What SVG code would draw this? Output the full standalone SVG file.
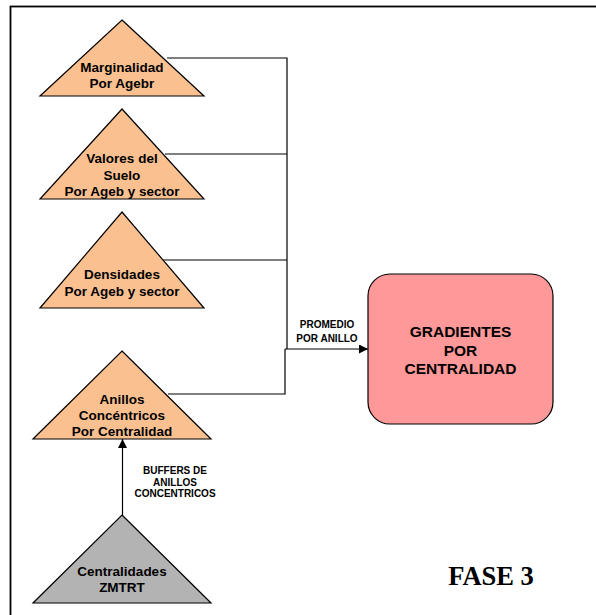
<svg xmlns="http://www.w3.org/2000/svg" width="596" height="615" viewBox="0 0 596 615">
  <defs>
    <marker id="arrow" viewBox="0 0 10 10" refX="10" refY="5" markerWidth="9" markerHeight="9" markerUnits="userSpaceOnUse" orient="auto">
      <path d="M0,0 L10,5 L0,10 z" fill="#000"/>
    </marker>
    <style>
      .tri { fill: #fac090; stroke: #000; stroke-width: 1.2; }
      .tri-grey { fill: #b3b3b3; stroke: #000; stroke-width: 1.2; }
      .lbl { font-family: "Liberation Sans", Arial, sans-serif; font-weight: bold; font-size: 13.5px; fill: #000; text-anchor: middle; }
      .small { font-family: "Liberation Sans", Arial, sans-serif; font-weight: bold; font-size: 10px; fill: #000; text-anchor: middle; }
      .big { font-family: "Liberation Sans", Arial, sans-serif; font-weight: bold; font-size: 15.5px; fill: #000; text-anchor: middle; }
      .wire { fill: none; stroke: #000; stroke-width: 1.2; }
    </style>
  </defs>

  <rect width="596" height="615" fill="#fff"/>
  <!-- page frame -->
  <rect x="10.5" y="6.5" width="600" height="620" fill="none" stroke="#000" stroke-width="1.8"/>

  <!-- connectors -->
  <g id="connectors">
    <polyline class="wire" points="167,58 287,58 287,349"/>
    <line class="wire" x1="165" y1="154" x2="287" y2="154"/>
    <line class="wire" x1="163" y1="260" x2="287" y2="260"/>
    <polyline class="wire" points="168,394 285,394 285,349"/>
    <line class="wire" x1="285" y1="349" x2="368" y2="349" marker-end="url(#arrow)"/>
    <line class="wire" x1="122.5" y1="515" x2="122.5" y2="439" marker-end="url(#arrow)"/>
    <text class="small" x="327" y="328">PROMEDIO</text>
    <text class="small" x="327" y="342">POR ANILLO</text>
    <text class="small" x="175" y="474">BUFFERS  DE</text>
    <text class="small" x="175" y="486">ANILLOS</text>
    <text class="small" x="175" y="497">CONCENTRICOS</text>
  </g>

  <g id="marginalidad">
    <polygon class="tri" points="122,20 204,96 40,96"/>
    <text class="lbl" x="122" y="72">Marginalidad</text>
    <text class="lbl" x="122" y="88">Por Agebr</text>
  </g>

  <g id="valores">
    <polygon class="tri" points="122,109 204,199 40,199"/>
    <text class="lbl" x="122" y="163">Valores del</text>
    <text class="lbl" x="122" y="179.5">Suelo</text>
    <text class="lbl" x="122" y="196">Por Ageb y sector</text>
  </g>

  <g id="densidades">
    <polygon class="tri" points="122,212 204,308 40,308"/>
    <text class="lbl" x="122" y="279">Densidades</text>
    <text class="lbl" x="122" y="296">Por Ageb y sector</text>
  </g>

  <g id="anillos">
    <polygon class="tri" points="122,351 211,439 33,439"/>
    <text class="lbl" x="122" y="404">Anillos</text>
    <text class="lbl" x="122" y="420">Concéntricos</text>
    <text class="lbl" x="122" y="436">Por Centralidad</text>
  </g>

  <g id="centralidades">
    <polygon class="tri-grey" points="122,515 211,603 33,603"/>
    <text class="lbl" x="122" y="576">Centralidades</text>
    <text class="lbl" x="122" y="592">ZMTRT</text>
  </g>

  <g id="gradientes">
    <rect x="368" y="274" width="185" height="150" rx="22" ry="22" fill="#ff9999" stroke="#000" stroke-width="1.2"/>
    <text class="big" x="460.5" y="337">GRADIENTES</text>
    <text class="big" x="460.5" y="355.5">POR</text>
    <text class="big" x="460.5" y="374">CENTRALIDAD</text>
  </g>

  <g id="fase">
    <text x="491" y="585" font-family="'Liberation Serif', 'Times New Roman', serif" font-weight="bold" font-size="26.5" text-anchor="middle" fill="#000">FASE 3</text>
  </g>
</svg>
